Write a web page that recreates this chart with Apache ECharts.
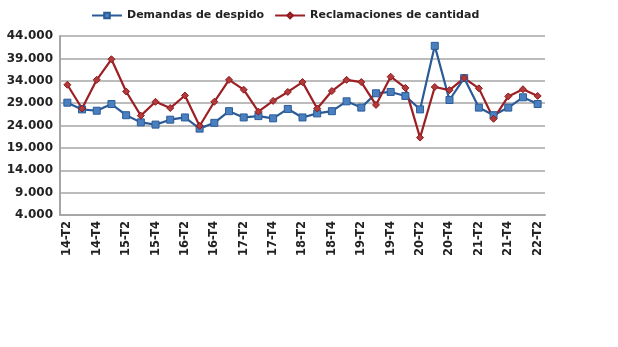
<!DOCTYPE html>
<html><head><meta charset="utf-8">
<script src="https://cdn.jsdelivr.net/npm/echarts@6/dist/echarts.min.js"></script>
<style>html,body{margin:0;padding:0;background:#fff}#c{width:618px;height:347px}</style>
</head><body><div id="c"></div>
<script>
var categories = ['14-T2','14-T3','14-T4','15-T1','15-T2','15-T3','15-T4','16-T1','16-T2','16-T3','16-T4','17-T1','17-T2','17-T3','17-T4','18-T1','18-T2','18-T3','18-T4','19-T1','19-T2','19-T3','19-T4','20-T1','20-T2','20-T3','20-T4','21-T1','21-T2','21-T3','21-T4','22-T1','22-T2'];
var demandas = [29100,27600,27300,28800,26300,24700,24200,25300,25800,23300,24600,27200,25800,26100,25600,27700,25800,26700,27200,29400,28000,31200,31500,30600,27600,41800,29700,34600,28000,26300,28000,30300,28800];
var reclamaciones = [33100,27800,34200,38800,31600,26200,29300,27900,30700,23900,29300,34200,32000,27100,29500,31500,33700,27800,31700,34200,33700,28600,34900,32400,21300,32600,31900,34600,32300,25500,30500,32100,30600];
var yMin = 4000, yMax = 44000, yStep = 5000;

var chart = echarts.init(document.getElementById('c'));
var fontFam = 'DejaVu Sans, Verdana, sans-serif';
chart.setOption({
  animation: false,
  backgroundColor: '#ffffff',
  legend: {
    top: 5, left: 86,
    itemWidth: 30, itemHeight: 7, itemGap: 10,
    textStyle: {fontFamily: fontFam, fontWeight: 'bold', fontSize: 11, color: '#222'},
    data: ['Demandas de despido', 'Reclamaciones de cantidad']
  },
  grid: {left: 60, right: 73, top: 36, bottom: 132},
  xAxis: {
    type: 'category', data: categories, boundaryGap: true,
    axisLine: {lineStyle: {color: '#a6a6a6', width: 2}},
    axisTick: {show: false},
    axisLabel: {interval: 1, rotate: 90, fontFamily: fontFam, fontWeight: 'bold', fontSize: 11.5, color: '#222', margin: 6}
  },
  yAxis: {
    type: 'value', min: yMin, max: yMax, interval: yStep,
    axisLine: {show: true, lineStyle: {color: '#a6a6a6', width: 2}},
    axisTick: {show: false},
    splitLine: {lineStyle: {color: '#a6a6a6', width: 1.5}},
    axisLabel: {fontFamily: fontFam, fontWeight: 'bold', fontSize: 12, color: '#222', margin: 7,
      formatter: function(v){ return (v/1000).toFixed(0) + '.000'; }}
  },
  series: [
    {name: 'Demandas de despido', type: 'line', data: demandas,
     symbol: 'rect', symbolSize: 7,
     lineStyle: {color: '#2b5b97', width: 2.2},
     itemStyle: {color: '#4a80c0', borderColor: '#2b5b97', borderWidth: 1}},
    {name: 'Reclamaciones de cantidad', type: 'line', data: reclamaciones,
     symbol: 'diamond', symbolSize: 7,
     lineStyle: {color: '#9c1f24', width: 2.2},
     itemStyle: {color: '#b23a3a', borderColor: '#8e1a1f', borderWidth: 1}}
  ]
});
</script></body></html>
